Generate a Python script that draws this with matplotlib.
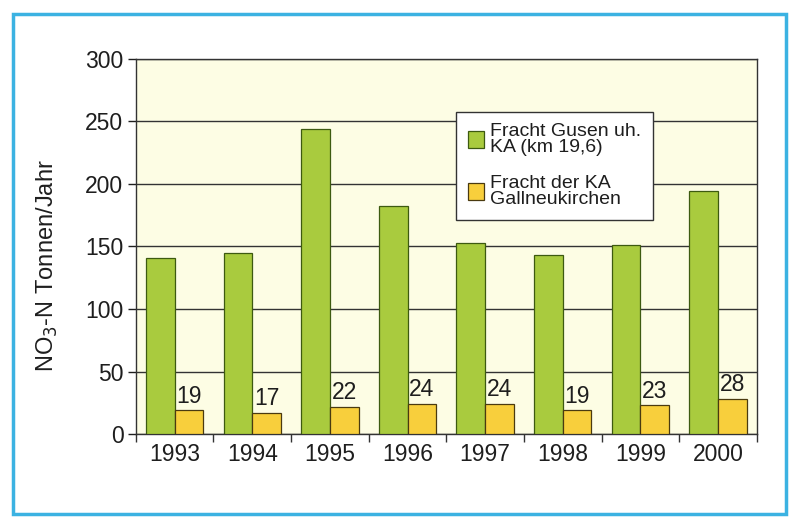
import numpy as np
import matplotlib.pyplot as plt
from matplotlib.patches import Rectangle

plt.rcParams['font.family'] = ['Liberation Sans', 'DejaVu Sans']

# data
years = ["1993", "1994", "1995", "1996", "1997", "1998", "1999", "2000"]
gusen = [141, 145, 244, 182, 153, 143, 151, 194]
gallneukirchen = [19, 17, 22, 24, 24, 19, 23, 28]

green = "#a9cb3e"
yellow = "#f8cf3c"
textcol = "#1e1e1e"

fig = plt.figure(figsize=(7.9, 5.2), dpi=100)
ax = fig.add_axes([0.172, 0.165, 0.786, 0.722])
ax.set_facecolor("#fdfde4")

x = np.arange(len(years))
w = 0.37
ax.bar(x - w / 2, gusen, w, color=green, edgecolor="#3d5a10", linewidth=0.9,
       label="Fracht Gusen uh.\nKA (km 19,6)", zorder=3)
bars = ax.bar(x + w / 2, gallneukirchen, w, color=yellow, edgecolor="#4a3a10",
              linewidth=0.9, label="Fracht der KA\nGallneukirchen", zorder=3)
ax.bar_label(bars, labels=[str(v) for v in gallneukirchen], padding=2,
             fontsize=16.5, color=textcol)

# axes and grid
ax.set_ylim(0, 300)
ax.set_xlim(-0.5, len(years) - 0.5)
ax.set_yticks(np.arange(0, 301, 50))
ax.yaxis.grid(True, color="#333333", linewidth=1.0, zorder=1)
ax.tick_params(axis="y", labelsize=16.5, colors=textcol, length=6, width=1,
               direction="out", pad=3)

ax.set_xticks(x)
ax.set_xticklabels(years)
ax.tick_params(axis="x", which="major", length=0, labelsize=16.5,
               colors=textcol, pad=6)
ax.set_xticks(np.arange(-0.5, len(years), 1), minor=True)
ax.tick_params(axis="x", which="minor", length=6, width=1, color="#333333")

for s in ax.spines.values():
    s.set_color("#333333")
    s.set_linewidth(1.0)

ax.set_ylabel("NO$_3$-N Tonnen/Jahr", fontsize=17, color=textcol)
ax.yaxis.set_label_coords(-0.122, 0.45)

leg = ax.legend(loc="upper left", bbox_to_anchor=(0.5, 0.885), fontsize=14,
                frameon=True, fancybox=False, framealpha=1, edgecolor="#333333",
                handlelength=0.85, handleheight=1.0, handletextpad=0.3,
                labelspacing=1.0, borderpad=0.6, labelcolor=textcol)
leg.get_frame().set_linewidth(1.0)
for t in leg.get_texts():
    t.set_linespacing(0.9)

# blue page frame
fig.patches.append(Rectangle((0.017, 0.012), 0.978, 0.962, transform=fig.transFigure,
                             fill=False, edgecolor="#3bb2e2", linewidth=2.5))

fig.savefig("out.png", dpi=100)
